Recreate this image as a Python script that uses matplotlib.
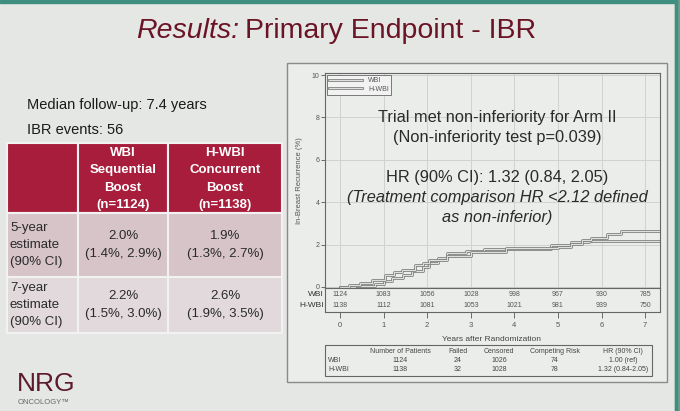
import matplotlib
matplotlib.use("Agg")
import matplotlib.pyplot as plt
import matplotlib.patheffects as pe
from matplotlib.patches import Rectangle

plt.rcParams['font.family'] = ['Liberation Sans', 'DejaVu Sans']

W, H = 680, 411

# cumulative incidence of in-breast recurrence (%), step curves
wbi_t = [0, 0.35, 0.8, 1.0, 1.2, 1.45, 1.65, 1.9, 2.05, 2.25, 2.45, 2.9, 3.3, 4.85, 5.3, 5.7, 7.34]
wbi_v = [0, 0.06, 0.15, 0.26, 0.41, 0.57, 0.75, 0.95, 1.15, 1.35, 1.58, 1.70, 1.79, 2.0, 2.1, 2.19, 2.19]
hwbi_t = [0, 0.2, 0.45, 0.73, 1.03, 1.25, 1.42, 1.72, 1.9, 2.05, 2.45, 3.0, 3.8, 5.0, 5.3, 5.55, 5.75, 6.13, 6.44, 7.34]
hwbi_v = [0, 0.08, 0.2, 0.33, 0.57, 0.69, 0.81, 1.05, 1.15, 1.25, 1.48, 1.66, 1.84, 1.9, 2.05, 2.2, 2.32, 2.48, 2.63, 2.63]

# numbers at risk
years = [0, 1, 2, 3, 4, 5, 6, 7]
risk_wbi = [1124, 1083, 1056, 1028, 998, 967, 930, 785]
risk_hwbi = [1138, 1112, 1081, 1053, 1021, 981, 939, 750]

# summary table under the plot
sum_cols = ["Number of Patients", "Failed", "Censored", "Competing Risk", "HR (90% CI)"]
sum_wbi = ["1124", "24", "1026", "74", "1.00 (ref)"]
sum_hwbi = ["1138", "32", "1028", "78", "1.32 (0.84-2.05)"]

# left table
tab_head = ["WBI\nSequential\nBoost\n(n=1124)", "H-WBI\nConcurrent\nBoost\n(n=1138)"]
tab_rows = ["5-year\nestimate\n(90% CI)", "7-year\nestimate\n(90% CI)"]
tab_vals = [["2.0%\n(1.4%, 2.9%)", "1.9%\n(1.3%, 2.7%)"],
            ["2.2%\n(1.5%, 3.0%)", "2.6%\n(1.9%, 3.5%)"]]

fig = plt.figure(figsize=(W / 100, H / 100), dpi=100)
fig.patch.set_facecolor('#e5e7e4')

# background layer in pixel coordinates
bg = fig.add_axes([0, 0, 1, 1])
bg.set_xlim(0, W)
bg.set_ylim(H, 0)
bg.axis('off')
bg.add_patch(Rectangle((0, 0), W, 3, color='#3e8f80'))
bg.add_patch(Rectangle((675, 0), 5, H, color='#6f9c8c'))
bg.add_patch(Rectangle((675, 0), 1.5, H, color='#3e8f80'))

title_red = '#6b1426'
t1 = bg.text(136, 31, "Results:", fontsize=20.5, style='italic', color=title_red, va='center', ha='left')
bg.annotate("Primary Endpoint - IBR", xy=(1, 0.5), xycoords=t1, xytext=(4, 0), textcoords='offset points',
            fontsize=20.5, color=title_red, va='center', ha='left')

bg.text(27, 105, "Median follow-up: 7.4 years", fontsize=10.5, color='#1a1a1a', va='center')
bg.text(27, 130, "IBR events: 56", fontsize=10.5, color='#1a1a1a', va='center')

# left table
col_x = [7, 78, 168, 282]
row_y = [143, 213, 277, 333]
row_colors = ['#a81d3b', '#d6c4c9', '#e1d9db']
for r in range(3):
    for c in range(3):
        bg.add_patch(Rectangle((col_x[c], row_y[r]), col_x[c + 1] - col_x[c], row_y[r + 1] - row_y[r],
                               facecolor=row_colors[r], edgecolor='#f2f2f2', lw=1.5))
for c, txt in enumerate(tab_head):
    bg.text((col_x[c + 1] + col_x[c + 2]) / 2, (row_y[0] + row_y[1]) / 2 + 1, txt, color='white',
            fontsize=9.5, fontweight='bold', ha='center', va='center', linespacing=1.6)
for r, lab in enumerate(tab_rows):
    yc = (row_y[r + 1] + row_y[r + 2]) / 2
    bg.text(10, yc, lab, fontsize=9.5, color='#2a2a2a', ha='left', va='center', linespacing=1.6)
    for c in range(2):
        bg.text((col_x[c + 1] + col_x[c + 2]) / 2, yc, tab_vals[r][c], fontsize=9.5, color='#2a2a2a',
                ha='center', va='center', linespacing=1.75)

# NRG logo text
bg.text(17, 384, "NRG", fontsize=19, color='#5c1a2e', va='center', ha='left')
bg.text(18, 402, "ONCOLOGY\u2122", fontsize=5.5, color='#666666', va='center', ha='left')

# chart panel
bg.add_patch(Rectangle((287, 63), 380, 319, facecolor='#eaedea', edgecolor='#8a8a8a', lw=1))

# summary table under the chart
bg.add_patch(Rectangle((325, 345), 327, 31, facecolor='none', edgecolor='#666666', lw=0.8))
sum_x = [400, 458, 499, 555, 623]
for x, h, a, b in zip(sum_x, sum_cols, sum_wbi, sum_hwbi):
    bg.text(x, 351, h, fontsize=5, color='#444444', ha='center', va='center')
    bg.text(x, 360, a, fontsize=5, color='#444444', ha='center', va='center')
    bg.text(x, 369, b, fontsize=5, color='#444444', ha='center', va='center')
bg.text(328, 360, "WBI", fontsize=5, color='#444444', ha='left', va='center')
bg.text(328, 369, "H-WBI", fontsize=5, color='#444444', ha='left', va='center')
bg.text(492, 339, "Years after Randomization", fontsize=6, color='#444444', ha='center', va='center')

# main plot
ax = fig.add_axes([325 / W, 1 - 288 / H, 335 / W, (288 - 73) / H])
ax.set_facecolor('#eaedea')
ax.set_xlim(-0.344, 7.34)
ax.set_ylim(-0.05, 10.1)
ax.set_xticks(years)
ax.set_xticklabels([])
ax.tick_params(axis='x', length=0)
ax.set_yticks([0, 2, 4, 6, 8, 10])
ax.tick_params(axis='y', labelsize=5, colors='#555555', length=3, width=0.6, pad=1)
ax.grid(True, color='#cfd3cf', lw=0.7)
ax.set_axisbelow(True)
for s in ax.spines.values():
    s.set_color('#666666')
    s.set_linewidth(0.8)
ax.set_ylabel("In-Breast Recurrence (%)", fontsize=5.5, color='#555555', labelpad=6)

stroke = [pe.Stroke(linewidth=2.0, foreground='#858585'), pe.Normal()]
ax.step(wbi_t, wbi_v, where='post', color='#f0f2f0', lw=0.6, path_effects=stroke, label='WBI')
ax.step(hwbi_t, hwbi_v, where='post', color='#f0f2f0', lw=0.6, path_effects=stroke, label='H-WBI')
leg = ax.legend(loc='upper left', fontsize=5, frameon=True, fancybox=False, edgecolor='#666666',
                facecolor='#f2f2f2', framealpha=1, borderpad=0.3, handlelength=4.8, labelspacing=0.2,
                borderaxespad=0.3)
leg.get_frame().set_linewidth(0.6)
for t in leg.get_texts():
    t.set_color('#555555')

txt_col = '#2a2a2a'
fs = 11.8
ax.text(3.6, 7.99, "Trial met non-inferiority for Arm II", fontsize=fs, color=txt_col, ha='center', va='center')
ax.text(3.6, 7.04, "(Non-inferiority test p=0.039)", fontsize=fs, color=txt_col, ha='center', va='center')
ax.text(3.6, 5.16, "HR (90% CI): 1.32 (0.84, 2.05)", fontsize=fs, color=txt_col, ha='center', va='center')
ax.text(3.6, 4.22, "(Treatment comparison HR <2.12 defined", fontsize=fs, style='italic', color=txt_col,
        ha='center', va='center')
ax.text(3.6, 3.28, "as non-inferior)", fontsize=fs, style='italic', color=txt_col, ha='center', va='center')

# numbers at risk
axr = fig.add_axes([325 / W, 1 - 312 / H, 335 / W, 24 / H])
axr.set_facecolor('#eaedea')
axr.set_xlim(-0.344, 7.34)
axr.set_ylim(0, 2)
axr.set_yticks([])
axr.set_xticks(years)
axr.tick_params(axis='x', labelsize=5.5, colors='#555555', length=4, width=0.6, pad=3)
for s in axr.spines.values():
    s.set_color('#666666')
    s.set_linewidth(0.8)
for x, a, b in zip(years, risk_wbi, risk_hwbi):
    axr.text(x, 1.45, str(a), fontsize=5, color='#555555', ha='center', va='center')
    axr.text(x, 0.55, str(b), fontsize=5, color='#555555', ha='center', va='center')
axr.text(-0.38, 1.45, "WBI", fontsize=6, color='#333333', ha='right', va='center')
axr.text(-0.38, 0.55, "H-WBI", fontsize=6, color='#333333', ha='right', va='center')

fig.savefig('out.png', dpi=100, facecolor=fig.get_facecolor())
